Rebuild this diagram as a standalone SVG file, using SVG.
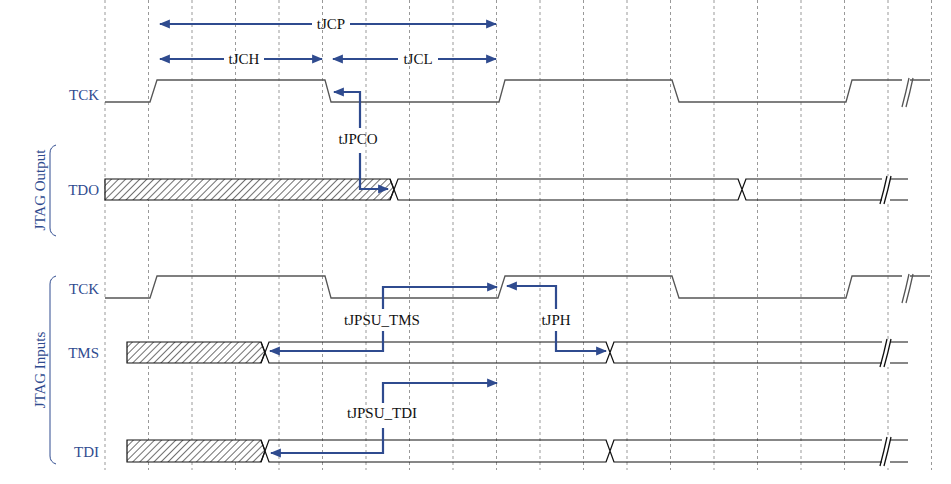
<svg xmlns="http://www.w3.org/2000/svg" width="951" height="484" viewBox="0 0 951 484">
<style>
.g{stroke:#999;stroke-width:1;stroke-dasharray:3,3}
.sig{fill:none;stroke:#555;stroke-width:1.3}
.bus{fill:none;stroke:#111;stroke-width:1.2}
.lab{font-family:"Liberation Serif",serif;font-size:15px;fill:#2f4b8f;text-anchor:end}
.t{font-family:"Liberation Serif",serif;font-size:15px;fill:#111;text-anchor:middle}
.a{fill:none;stroke:#2f4b8f;stroke-width:2.2}
.br{fill:none;stroke:#2f4b8f;stroke-width:1}
.w{fill:#fff;stroke:none}
</style>
<defs>
<pattern id="h" width="5" height="5" patternUnits="userSpaceOnUse" patternTransform="rotate(45)">
<rect width="5" height="5" fill="#fff"/><line x1="0" y1="0" x2="0" y2="5" stroke="#222" stroke-width="1.3"/>
</pattern>
<marker id="m" viewBox="0 0 10 10" refX="9" refY="5" markerWidth="5" markerHeight="5" orient="auto-start-reverse">
<path d="M0,1 L10,5 L0,9 z" fill="#2f4b8f"/>
</marker>
</defs>
<g id="grid">
<line class="g" x1="105" y1="0" x2="105" y2="470"/><line class="g" x1="148.5" y1="0" x2="148.5" y2="470"/>
<line class="g" x1="192" y1="0" x2="192" y2="470"/><line class="g" x1="235.5" y1="0" x2="235.5" y2="470"/>
<line class="g" x1="279" y1="0" x2="279" y2="470"/><line class="g" x1="322.5" y1="0" x2="322.5" y2="470"/>
<line class="g" x1="366" y1="0" x2="366" y2="470"/><line class="g" x1="409.5" y1="0" x2="409.5" y2="470"/>
<line class="g" x1="453" y1="0" x2="453" y2="470"/><line class="g" x1="496.5" y1="0" x2="496.5" y2="470"/>
<line class="g" x1="540" y1="0" x2="540" y2="470"/><line class="g" x1="583.5" y1="0" x2="583.5" y2="470"/>
<line class="g" x1="627" y1="0" x2="627" y2="470"/><line class="g" x1="670.5" y1="0" x2="670.5" y2="470"/>
<line class="g" x1="714" y1="0" x2="714" y2="470"/><line class="g" x1="757.5" y1="0" x2="757.5" y2="470"/>
<line class="g" x1="801" y1="0" x2="801" y2="470"/><line class="g" x1="844.5" y1="0" x2="844.5" y2="470"/>
<line class="g" x1="888" y1="0" x2="888" y2="470"/><line class="g" x1="931.5" y1="0" x2="931.5" y2="470"/>
</g>
<g id="brackets">
<path class="br" d="M56,145 Q50,147 50,153 L50,228 Q50,234 56,236"/>
<text transform="translate(45,190) rotate(-90)" class="lab" style="text-anchor:middle">JTAG Output</text>
<path class="br" d="M56,276 Q50,278 50,284 L50,456 Q50,462 56,464"/>
<text transform="translate(45,370) rotate(-90)" class="lab" style="text-anchor:middle">JTAG Inputs</text>
</g>
<g id="tck1">
<text class="lab" x="99" y="100">TCK</text>
<path class="sig" d="M105,102 L150,102 L157,80 L325,80 L331,102 L499,102 L505,80 L672,80 L679,102 L846,102 L852,80 L930,80"/>
<rect class="w" x="902" y="76" width="8" height="30"/>
<path class="sig" d="M902,107 Q906,92 909,78 M906,107 Q910,92 913,78"/>
</g>
<g id="tdo">
<text class="lab" x="99" y="195">TDO</text>
<path d="M105,179 L390,179 L394,189.5 L390,200 L105,200 Z" fill="url(#h)" stroke="#111" stroke-width="1.2"/>
<path class="bus" d="M390,179 L394,189.5 L398,179 L738,179 L742,189.5 L746,179 L908,179 M390,200 L394,189.5 L398,200 L738,200 L742,189.5 L746,200 L908,200 M738,179 L746,200 M738,200 L746,179"/>
<rect class="w" x="882" y="176" width="8" height="28"/>
<path class="sig" d="M880,204 Q884,190 887,176 M884,204 Q888,190 891,176" style="stroke:#111"/>
</g>
<g id="tck2">
<text class="lab" x="99" y="294">TCK</text>
<path class="sig" d="M105,298 L150,298 L157,276 L325,276 L331,298 L498,298 L505,276 L672,276 L679,298 L846,298 L852,276 L930,276"/>
<rect class="w" x="902" y="272" width="8" height="30"/>
<path class="sig" d="M902,303 Q906,288 909,274 M906,303 Q910,288 913,274"/>
</g>
<g id="tms">
<text class="lab" x="99" y="358">TMS</text>
<path d="M127,342 L261,342 L265,352.5 L261,363 L127,363 Z" fill="url(#h)" stroke="#111" stroke-width="1.2"/>
<path class="bus" d="M261,342 L265,352.5 L269,342 L606,342 L610,352.5 L614,342 L908,342 M261,363 L265,352.5 L269,363 L606,363 L610,352.5 L614,363 L908,363 M606,342 L614,363 M606,363 L614,342"/>
<rect class="w" x="882" y="339" width="8" height="28"/>
<path class="sig" d="M880,367 Q884,353 887,339 M884,367 Q888,353 891,339" style="stroke:#111"/>
</g>
<g id="tdi">
<text class="lab" x="99" y="457">TDI</text>
<path d="M127,440 L261,440 L265,451 L261,462 L127,462 Z" fill="url(#h)" stroke="#111" stroke-width="1.2"/>
<path class="bus" d="M261,440 L265,451 L269,440 L606,440 L610,451 L614,440 L908,440 M261,462 L265,451 L269,462 L606,462 L610,451 L614,462 L908,462 M606,440 L614,462 M606,462 L614,440"/>
<rect class="w" x="882" y="437" width="8" height="28"/>
<path class="sig" d="M880,466 Q884,451 887,437 M884,466 Q888,451 891,437" style="stroke:#111"/>
</g>
<g id="connectors">
<line class="a" x1="312" y1="24" x2="160" y2="24" marker-end="url(#m)"/>
<line class="a" x1="350" y1="24" x2="496" y2="24" marker-end="url(#m)"/>
<text class="t" x="331" y="29">tJCP</text>
<line class="a" x1="224" y1="59" x2="160" y2="59" marker-end="url(#m)"/>
<line class="a" x1="264" y1="59" x2="322" y2="59" marker-end="url(#m)"/>
<text class="t" x="244" y="64">tJCH</text>
<line class="a" x1="398" y1="59" x2="333" y2="59" marker-end="url(#m)"/>
<line class="a" x1="438" y1="59" x2="496" y2="59" marker-end="url(#m)"/>
<text class="t" x="418" y="64">tJCL</text>
<path class="a" d="M360,128 L360,92 L334,92" marker-end="url(#m)"/>
<text class="t" x="358" y="144">tJPCO</text>
<path class="a" d="M360,153 L360,189 L388,189" marker-end="url(#m)"/>
<path class="a" d="M383,309 L383,287 L497,287" marker-end="url(#m)"/>
<text class="t" x="382" y="325">tJPSU_TMS</text>
<path class="a" d="M383,331 L383,351 L270,351" marker-end="url(#m)"/>
<path class="a" d="M556,309 L556,286 L507,286" marker-end="url(#m)"/>
<text class="t" x="556" y="325">tJPH</text>
<path class="a" d="M556,331 L556,351 L606,351" marker-end="url(#m)"/>
<path class="a" d="M383,403 L383,383 L497,383" marker-end="url(#m)"/>
<text class="t" x="382" y="418">tJPSU_TDI</text>
<path class="a" d="M383,428 L383,453 L271,453" marker-end="url(#m)"/>
</g>
</svg>
